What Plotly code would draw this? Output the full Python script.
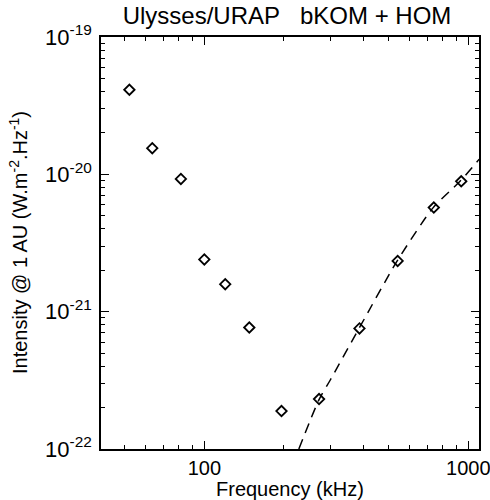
import plotly.graph_objects as go

# Measured spectrum (URAP channels)
freq_khz = [52, 63.5, 81.5, 100, 120, 148, 196, 272, 387, 540, 740, 940]
intensity = [4.13e-20, 1.55e-20, 9.25e-21, 2.40e-21, 1.585e-21, 7.67e-22,
             1.89e-22, 2.31e-22, 7.55e-22, 2.34e-21, 5.73e-21, 8.9e-21]

# Dashed model curve
fit_freq = [228, 272, 300, 385, 537, 735, 930, 1100]
fit_int = [1.0e-22, 2.29e-22, 3.18e-22, 7.52e-22, 2.33e-21, 5.70e-21, 8.89e-21, 1.29e-20]

x_major = [100, 1000]
x_major_text = ["100", "1000"]
x_minor = [50, 60, 70, 80, 90, 200, 300, 400, 500, 600, 700, 800, 900]
y_major = [1e-22, 1e-21, 1e-20, 1e-19]
y_major_text = ["10<sup>-22</sup>", "10<sup>-21</sup>", "10<sup>-20</sup>", "10<sup>-19</sup>"]
y_minor = [m * 10.0 ** e for e in (-22, -21, -20) for m in range(2, 10)]

title_text = "Ulysses/URAP\u00a0\u00a0\u00a0bKOM + HOM"
x_title = "Frequency (kHz)"
y_title = "Intensity @ 1 AU (W.m<sup>-2</sup>.Hz<sup>-1</sup>)"

FONT = "Liberation Sans, Arial, Helvetica, sans-serif"
X_RANGE = [1.6085, 3.0405]
Y_RANGE = [-22, -19]

fig = go.Figure()
fig.add_trace(go.Scatter(
    x=fit_freq, y=fit_int, mode="lines",
    line=dict(color="black", width=1.5, dash="10px,7px", shape="spline", smoothing=0.7),
    hoverinfo="skip", showlegend=False))
fig.add_trace(go.Scatter(
    x=freq_khz, y=intensity, mode="markers",
    marker=dict(symbol="diamond-open", size=8, color="black", line=dict(width=1.8, color="black")),
    showlegend=False))

frame = dict(showgrid=False, zeroline=False, showline=True, linecolor="black", linewidth=1.5,
             mirror="allticks", ticks="inside", tickcolor="black", tickwidth=1.3,
             automargin=False)

fig.update_layout(
    xaxis=dict(type="log", range=X_RANGE, tickmode="array", tickvals=x_major, ticktext=x_major_text,
               ticklen=8, tickfont=dict(family=FONT, size=20, color="black"),
               ticklabeloverflow="allow", **frame),
    yaxis=dict(type="log", range=Y_RANGE, tickmode="array", tickvals=y_major, ticktext=y_major_text,
               ticklen=8, tickfont=dict(family=FONT, size=22, color="black"),
               ticklabelstandoff=3, ticklabeloverflow="allow", **frame),
    # overlay axes carrying the minor ticks only
    xaxis2=dict(type="log", range=X_RANGE, overlaying="x", side="bottom", anchor="y",
                tickmode="array", tickvals=x_minor, showticklabels=False, ticklen=4, **frame),
    yaxis2=dict(type="log", range=Y_RANGE, overlaying="y", side="left", anchor="x",
                tickmode="array", tickvals=y_minor, showticklabels=False, ticklen=4, **frame),
)
# invisible trace to activate the overlay axes
fig.add_trace(go.Scatter(x=[300], y=[1e-21], xaxis="x2", yaxis="y2", mode="markers",
                         marker=dict(opacity=0), hoverinfo="skip", showlegend=False))

fig.update_layout(
    width=490, height=500,
    margin=dict(l=101, r=11, t=36.5, b=51, pad=0),
    paper_bgcolor="white", plot_bgcolor="white",
    font=dict(family=FONT, color="black"),
    title=dict(text=title_text, x=287 / 490, y=1 - 16 / 500, xanchor="center", yanchor="middle",
               font=dict(family=FONT, size=24, color="black")),
    annotations=[
        dict(text=x_title, xref="paper", yref="paper", x=(289.5 - 101) / 378, y=-40 / 412.5,
             xanchor="center", yanchor="middle", showarrow=False,
             font=dict(family=FONT, size=20, color="black")),
        dict(text=y_title, xref="paper", yref="paper", x=(18 - 101) / 378, y=0.5,
             xanchor="center", yanchor="middle", showarrow=False, textangle=-90,
             font=dict(family=FONT, size=20, color="black")),
    ],
)

fig.write_html("out.html", config={"displayModeBar": False},
               post_script="document.body.style.margin='0';")
